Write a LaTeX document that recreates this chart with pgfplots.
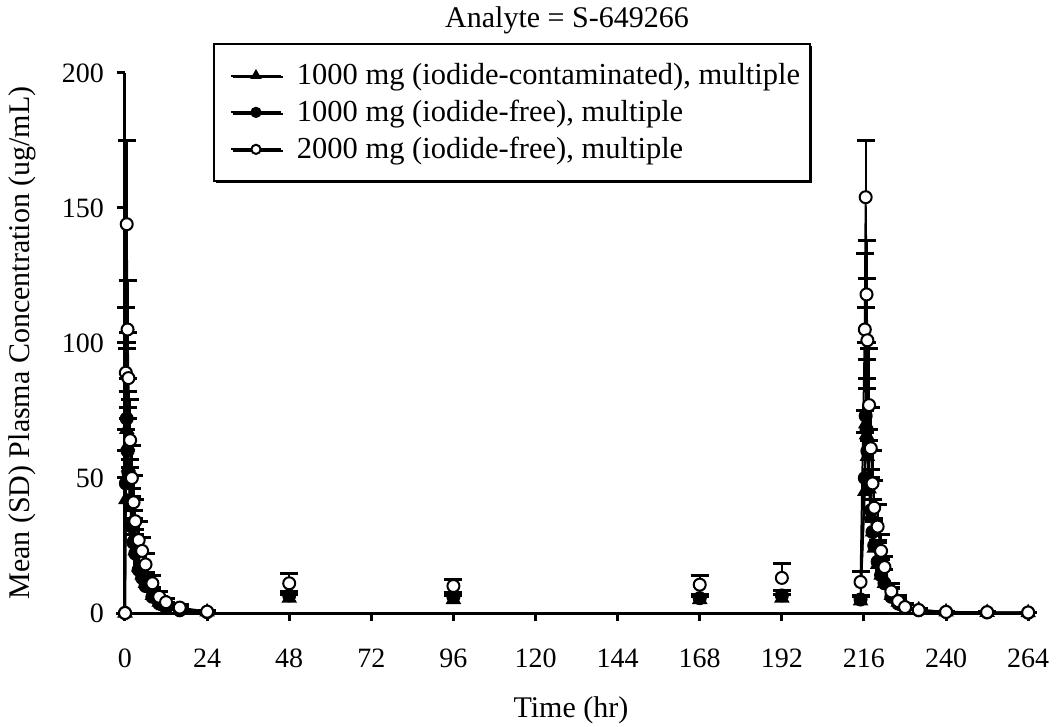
\documentclass[border=0pt]{standalone}
\usepackage{fontspec}
\setmainfont{Liberation Serif}
\usepackage{pgfplots}
\usepackage{pgfplotstable}
\pgfplotsset{compat=1.18}
\usetikzlibrary{shadows}

% day 1 profiles (t, mean, SD)
\pgfplotstableread{
t y e
0 0 0
0.25 42 18
0.5 68 30
0.75 62 25
1 54 22
1.5 42 15
2 34 12
2.5 28 10
3 23 8
4 17 7
5 14 5
6 11 4
8 6.5 3
10 4 2
12 2.5 1.5
16 1.2 0.8
24 0.4 0.3
}\conA
\pgfplotstableread{
t y e
0 0 0
0.25 48 20
0.5 72 28
0.75 60 22
1 52 20
1.5 40 14
2 32 11
2.5 26 9
3 22 7
4 16 6
5 13 5
6 10 4
8 6 3
10 3.5 2
12 2 1.5
16 1 0.8
24 0.3 0.3
}\freeA
\pgfplotstableread{
t y e
0 0 0
0.25 89 24
0.5 144 31
0.75 105 18
1 87 17
1.5 64 15
2 50 12
2.5 41 10
3 34 8
4 27 7
5 23 5
6 18 4
8 11 3
10 6 2
12 4 1.5
16 2 1
24 0.5 0.5
}\highA

% troughs
\pgfplotstableread{
t y e
48 5.5 1.5
96 5 1.5
168 5 1.2
192 5.5 1.5
}\conT
\pgfplotstableread{
t y e
48 6.5 1.5
96 6 1.5
168 5.5 1.5
192 6.5 2
}\freeT
\pgfplotstableread{
t y e
48 11 3.5
96 10 2.5
168 10.5 3.5
192 13 5.5
}\highT

% day 9 profiles
\pgfplotstableread{
t y e
215 4.5 1.5
216.25 45 22
216.5 70 30
216.75 66 28
217 58 25
217.5 46 18
218 36 14
218.5 30 12
219 24 10
220 18 8
221 14 6
222 11 5
224 6.5 3
226 4 2
228 2.5 1.2
232 1.2 0.6
240 0.4 0.3
252 0.2 0.1
264 0.1 0.1
}\conB
\pgfplotstableread{
t y e
215 5 1.5
216.25 50 25
216.5 73 40
216.75 68 32
217 60 27
217.5 48 20
218 38 15
218.5 30 12
219 25 10
220 19 8
221 14 6
222 11 5
224 6 3
226 3.5 2
228 2 1.2
232 1 0.6
240 0.4 0.3
252 0.2 0.1
264 0.1 0.1
}\freeB
\pgfplotstableread{
t y e
215 11.5 4
216.25 105 28
216.5 154 21
216.75 118 20
217 101 23
217.5 77 21
218 61 15
218.5 48 12
219 39 10
220 32 8
221 23 6
222 17 4
224 8 3
226 4.4 2
228 2.2 1
232 1.1 0.6
240 0.4 0.3
252 0.3 0.2
264 0.2 0.1
}\highB

\pgfplotsset{
  pk/.style={black, line width=1pt,
    error bars/y dir=plus, error bars/y explicit,
    error bars/error bar style={line width=1pt, solid},
    error bars/error mark options={rotate=90, mark size=4.5pt, line width=1.5pt}},
  tri/.style={pk, mark=triangle*, mark size=3.5pt, mark options={fill=black, solid}},
  dot/.style={pk, mark=*, mark size=3pt, mark options={fill=black, solid}},
  ring/.style={pk, mark=*, mark size=3pt, mark options={fill=white, solid}},
}

\begin{document}
\begin{tikzpicture}
\path[use as bounding box] (-62.5pt,-57pt) rectangle (467pt,306.5pt);
\begin{axis}[
    scale only axis,
    width=455pt, height=270pt,
    xmin=0, xmax=266, ymin=0, ymax=200,
    clip=false,
    axis x line=bottom, axis y line=left,
    axis line style={-, line width=1.5pt},
    xtick={0,24,...,264}, ytick={0,50,...,200},
    tick align=outside, major tick length=4pt,
    tick style={black, line width=1.5pt},
    font=\fontsize{15}{18}\selectfont,
    ticklabel style={font=\fontsize{14}{17}\selectfont},
    /pgf/number format/assume math mode=true,
    xticklabel style={yshift=-10.5pt},
    yticklabel style={xshift=-3pt},
    title={Analyte = S-649266},
    title style={at={(axis description cs:0.4857,1.098)}, anchor=center, yshift=-6pt},
    xlabel={Time (hr)},
    xlabel style={at={(axis description cs:0.49,-0.18)}, anchor=center},
    ylabel={Mean (SD) Plasma Concentration (ug/mL)},
    ylabel style={at={(axis description cs:-0.1132,0.5)}, anchor=center},
    legend style={at={(axis description cs:0.0967,1.0556)}, anchor=north west,
      draw=black, line width=1pt, fill=white,
      inner ysep=7.75pt, row sep=2.25pt,
      drop shadow={shadow xshift=0.8pt, shadow yshift=-0.8pt, fill=black, opacity=1},
      cells={anchor=west}, font=\fontsize{15.25}{18}\selectfont},
    legend image code/.code={\path (-5pt,0pt) (30.5pt,0pt);
      \draw[mark repeat=2, mark phase=2, mark size=2.3pt]
      plot coordinates {(0pt,0pt) (12.5pt,0pt) (25pt,0pt)};},
]
\addplot[tri] table[x=t, y=y, y error=e] {\conA};
\addlegendentry{1000 mg (iodide-contaminated), multiple}
\addplot[dot] table[x=t, y=y, y error=e] {\freeA};
\addlegendentry{1000 mg (iodide-free), multiple}
\addplot[ring] table[x=t, y=y, y error=e] {\highA};
\addlegendentry{2000 mg (iodide-free), multiple}

\addplot[tri, only marks, forget plot] table[x=t, y=y, y error=e] {\conT};
\addplot[dot, only marks, forget plot] table[x=t, y=y, y error=e] {\freeT};
\addplot[ring, only marks, forget plot] table[x=t, y=y, y error=e] {\highT};

\addplot[tri, forget plot] table[x=t, y=y, y error=e] {\conB};
\addplot[dot, forget plot] table[x=t, y=y, y error=e] {\freeB};
\addplot[ring, forget plot] table[x=t, y=y, y error=e] {\highB};
\end{axis}
\end{tikzpicture}
\end{document}
